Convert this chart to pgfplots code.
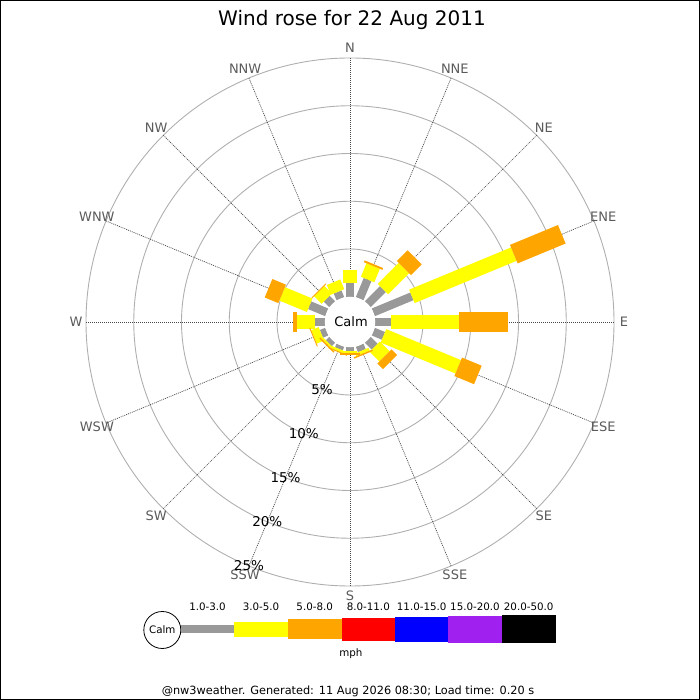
\documentclass[border=0pt]{standalone}
\usepackage{fontspec}
\setmainfont{DejaVu Sans}
\usepackage{pgfplots}
\usepackage{pgfplotstable}
\pgfplotsset{compat=1.18}

\definecolor{bgray}{RGB}{153,153,153}
\definecolor{byellow}{RGB}{255,255,0}
\definecolor{borange}{RGB}{255,165,0}
\definecolor{bred}{RGB}{255,0,0}
\definecolor{bblue}{RGB}{0,0,255}
\definecolor{bpurple}{RGB}{160,32,240}
\definecolor{circ}{RGB}{175,175,175}
\definecolor{spoke}{RGB}{70,70,70}
\definecolor{dirlab}{RGB}{90,90,90}

% wind direction (bearing, deg) and frequency (%) per speed bin
% ba: 1.0-3.0 mph, bb: 3.0-5.0 mph, bc: 5.0-8.0 mph
\pgfplotstableread{
dir   ba    bb    bc
0     1.47  1.33  0.00
22.5  2.17  1.53  0.20
45    2.23  3.11  1.59
67.5  4.37  11.55 5.44
90    1.65  7.15  5.07
112.5 1.15  8.47  2.23
135   1.02  1.44  0.82
157.5 0.60  0.32  0.15
180   0.40  0.25  0.15
202.5 0.40  0.25  0.10
225   0.50  0.20  0.15
247.5 0.60  0.84  0.10
270   1.02  1.85  0.42
292.5 1.93  3.12  1.54
315   0.81  1.10  0.10
337.5 0.76  1.10  0.00
}\windtable

\newcommand\czero{2.644}

\begin{document}
\begin{tikzpicture}[x=1pt,y=1pt]
\useasboundingbox (0,0) rectangle (700,700);
% grid
\begin{scope}[shift={(350,378)}]
 \foreach \r in {73,120.75,168.5,216.25,264}
   \draw[circ, line width=0.9pt] (0,0) circle[radius=\r pt];
 \foreach \t in {0,22.5,...,337.5}
   \draw[spoke, line width=0.7pt, dash pattern=on 1pt off 1pt] (\t:25.25pt) -- (\t:264pt);
\end{scope}

\begin{axis}[at={(0,0)}, anchor=south west, scale only axis,
  width=700pt, height=700pt,
  xmin=-36.649, xmax=36.649, ymin=-39.581, ymax=33.717,
  hide axis, clip=false]
\addplot[draw=bgray, line width=8.3pt, no marks,
  quiver={u=\thisrow{ba}*sin(\thisrow{dir}), v=\thisrow{ba}*cos(\thisrow{dir})}]
  table[x expr={\czero*sin(\thisrow{dir})}, y expr={\czero*cos(\thisrow{dir})}] {\windtable};
\addplot[draw=byellow, line width=14.5pt, no marks,
  quiver={u=\thisrow{bb}*sin(\thisrow{dir}), v=\thisrow{bb}*cos(\thisrow{dir})}]
  table[x expr={(\czero+\thisrow{ba})*sin(\thisrow{dir})}, y expr={(\czero+\thisrow{ba})*cos(\thisrow{dir})}] {\windtable};
\addplot[draw=borange, line width=20pt, no marks,
  quiver={u=\thisrow{bc}*sin(\thisrow{dir}), v=\thisrow{bc}*cos(\thisrow{dir})}]
  table[x expr={(\czero+\thisrow{ba}+\thisrow{bb})*sin(\thisrow{dir})}, y expr={(\czero+\thisrow{ba}+\thisrow{bb})*cos(\thisrow{dir})}] {\windtable};
\end{axis}

% calm circle
\fill[white] (350,378) circle[radius=25.25pt];
\node[font=\fontsize{13}{15}\selectfont] at (351,378) {Calm};

% direction labels and percentages
\begin{scope}[shift={(350,378)}]
 \foreach \b/\l in {0/N,22.5/NNE,45/NE,67.5/ENE,90/E,112.5/ESE,135/SE,157.5/SSE,180/S,202.5/SSW,225/SW,247.5/WSW,270/W,292.5/WNW,315/NW,337.5/NNW}
   \node[text=dirlab, font=\fontsize{13}{15}\selectfont] at ({90-\b}:274pt) {\l};
 \foreach \r/\p in {73/5,120.75/10,168.5/15,216.25/20,264/25}
   \node[font=\fontsize{13.5}{15}\selectfont] at (-112.5:\r pt) {\p\%};
\end{scope}

% title
\node[anchor=base, font=\fontsize{20}{24}\selectfont] at (352,674) {Wind rose for 22 Aug 2011};

% legend
\draw[line width=0.8pt] (162.3,70) circle[radius=18.5pt];
\node[font=\fontsize{10.3}{12}\selectfont] at (162.3,70) {Calm};
\fill[bgray]   (180.7,66.65) rectangle (234.3,74.95);
\fill[byellow] (234.3,63.3) rectangle (287.7,78.3);
\fill[borange] (287.7,60.65) rectangle (341.7,80.95);
\fill[bred]    (341.7,59.3) rectangle (395,82.3);
\fill[bblue]   (395,58.3) rectangle (448.3,83.3);
\fill[bpurple] (448.3,57.45) rectangle (501.7,84.15);
\fill[black]   (501.7,56.65) rectangle (555.7,84.95);
\begin{scope}[every node/.style={font=\fontsize{10.3}{12}\selectfont}]
\node at (207.5,93.3) {1.0-3.0};
\node at (261,93.3) {3.0-5.0};
\node at (314.7,93.3) {5.0-8.0};
\node at (368.3,93.3) {8.0-11.0};
\node at (421.7,93.3) {11.0-15.0};
\node at (475,93.3) {15.0-20.0};
\node at (528.7,93.3) {20.0-50.0};
\node at (350.8,46.7) {mph};
\end{scope}

% footer
\node[font=\fontsize{11.3}{13}\selectfont] at (348,8.5) {@nw3weather. Generated: 11 Aug 2026 08:30; Load time: 0.20 s};

% frame
\draw[line width=1pt] (0.5,0.5) rectangle (699.5,699.5);
\end{tikzpicture}
\end{document}
